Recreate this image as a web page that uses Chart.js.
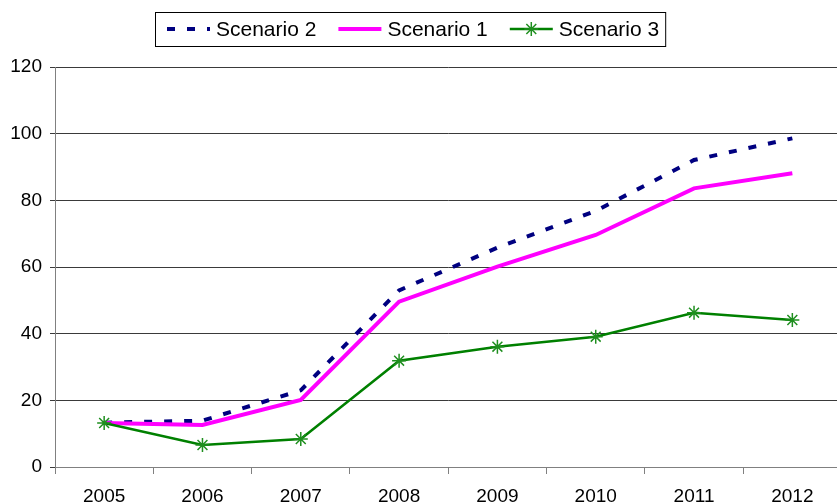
<!DOCTYPE html>
<html>
<head>
<meta charset="utf-8">
<script src="https://cdn.jsdelivr.net/npm/chart.js@4.4.1/dist/chart.umd.min.js"></script>
<style>
  html, body { margin: 0; padding: 0; background: #fff; overflow: hidden; }
  #wrap { width: 850px; height: 513px; }
</style>
</head>
<body>
<div id="wrap"><canvas id="c" width="850" height="513"></canvas></div>
<script>
const years = ['2005', '2006', '2007', '2008', '2009', '2010', '2011', '2012'];
const scenario2 = [13.3, 13.9, 23.0, 53.0, 65.8, 76.8, 92.1, 98.6];
const scenario1 = [13.2, 12.6, 20.1, 49.6, 60.1, 69.6, 83.6, 88.1];
const scenario3 = [13.2, 6.6, 8.4, 31.9, 36.1, 39.1, 46.3, 44.1];
const yTicks = { min: 0, max: 120, step: 20 };

const FONT = '"Liberation Sans", Arial, sans-serif';

// Boxed legend with line samples across the top
const boxedLegend = {
  id: 'boxedLegend',
  afterDraw(chart) {
    const ctx = chart.ctx;
    const ds = chart.data.datasets;
    ctx.save();
    ctx.font = '21px ' + FONT;
    ctx.textBaseline = 'middle';
    const left = 155, top = 12, bottom = 46, cy = (top + bottom) / 2;
    let x = left + 12;
    const sampleW = 43, sampleGap = 6, itemGap = 22;
    ds.forEach((d, k) => {
      ctx.save();
      ctx.strokeStyle = d.borderColor;
      ctx.lineWidth = d.borderWidth;
      ctx.setLineDash(d.borderDash || []);
      ctx.lineCap = 'butt';
      ctx.beginPath();
      ctx.moveTo(x, cy);
      ctx.lineTo(x + sampleW, cy);
      ctx.stroke();
      ctx.restore();
      if (d.pointRadius > 0) {
        const px = x + sampleW / 2, r = d.pointRadius, q = r * Math.SQRT1_2;
        ctx.save();
        ctx.strokeStyle = d.pointBorderColor;
        ctx.lineWidth = d.pointBorderWidth;
        ctx.beginPath();
        ctx.moveTo(px - r, cy); ctx.lineTo(px + r, cy);
        ctx.moveTo(px, cy - r); ctx.lineTo(px, cy + r);
        ctx.moveTo(px - q, cy - q); ctx.lineTo(px + q, cy + q);
        ctx.moveTo(px - q, cy + q); ctx.lineTo(px + q, cy - q);
        ctx.stroke();
        ctx.restore();
      }
      x += sampleW + sampleGap;
      ctx.fillStyle = '#000';
      ctx.fillText(d.label, x, cy + 1);
      x += ctx.measureText(d.label).width;
      if (k < ds.length - 1) x += itemGap;
    });
    const right = x + 6;
    ctx.strokeStyle = '#000';
    ctx.lineWidth = 1;
    ctx.strokeRect(left + 0.5, top + 0.5, right - left, bottom - top);
    ctx.restore();
  }
};

new Chart(document.getElementById('c'), {
  type: 'line',
  data: {
    labels: years,
    datasets: [
      {
        label: 'Scenario 2',
        data: scenario2,
        borderColor: '#000080',
        backgroundColor: '#000080',
        borderWidth: 4,
        borderDash: [8, 12],
        borderCapStyle: 'butt',
        pointRadius: 0,
        tension: 0,
        order: 3
      },
      {
        label: 'Scenario 1',
        data: scenario1,
        borderColor: '#FF00FF',
        backgroundColor: '#FF00FF',
        borderWidth: 4,
        pointRadius: 0,
        tension: 0,
        order: 2
      },
      {
        label: 'Scenario 3',
        data: scenario3,
        borderColor: '#008000',
        backgroundColor: '#008000',
        borderWidth: 2.5,
        pointStyle: 'star',
        pointRadius: 7,
        pointBorderWidth: 1.5,
        pointBorderColor: '#1f8f1f',
        pointBackgroundColor: '#1f8f1f',
        tension: 0,
        order: 1
      }
    ]
  },
  options: {
    responsive: false,
    animation: false,
    devicePixelRatio: 1,
    layout: { padding: { top: 67, left: 0, right: 4, bottom: 6 } },
    plugins: {
      legend: { display: false },
      tooltip: { enabled: false },
      title: { display: false }
    },
    scales: {
      x: {
        type: 'category',
        offset: true,
        grid: {
          offset: true,
          drawOnChartArea: false,
          drawTicks: true,
          tickLength: 7,
          color: '#808080',
          tickColor: '#808080'
        },
        border: { color: '#808080', width: 1 },
        ticks: {
          color: '#000',
          font: { family: FONT, size: 19 },
          padding: 11,
          maxRotation: 0,
          autoSkip: false
        },
        afterFit(scale) { scale.height = 40; }
      },
      y: {
        min: yTicks.min,
        max: yTicks.max,
        grid: {
          color: '#3a3a3a',
          lineWidth: 1,
          drawTicks: true,
          tickLength: 5,
          tickColor: '#3a3a3a'
        },
        border: { color: '#808080', width: 1 },
        ticks: {
          stepSize: yTicks.step,
          color: '#000',
          font: { family: FONT, size: 19 },
          padding: 8
        },
        afterFit(scale) { scale.width = 55; }
      }
    }
  },
  plugins: [boxedLegend]
});
</script>
</body>
</html>
